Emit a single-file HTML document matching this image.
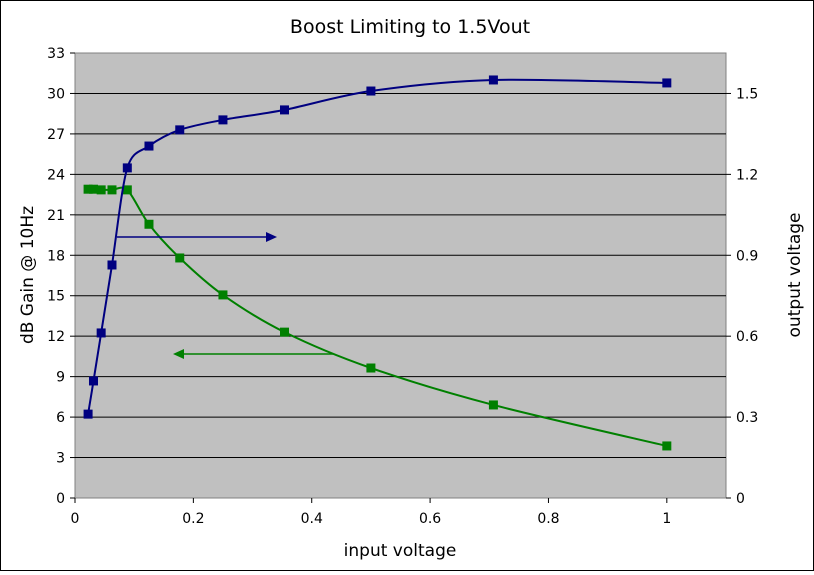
<!DOCTYPE html>
<html><head><meta charset="utf-8"><style>
body{margin:0;background:#fff;font-family:"DejaVu Sans","Liberation Sans",sans-serif}
svg text{font-family:"DejaVu Sans","Liberation Sans",sans-serif;fill:#000}
</style></head><body>
<svg id="chart" width="814" height="571" viewBox="0 0 814 571" xmlns="http://www.w3.org/2000/svg">
<rect x="0.5" y="0.5" width="813" height="570" fill="#fff" stroke="#000"/>
<text x="410" y="33" font-size="19" text-anchor="middle">Boost Limiting to 1.5Vout</text>
<rect x="75" y="53" width="651" height="445" fill="#c0c0c0" stroke="#808080"/>
<g id="grid"></g><g id="axes"></g><g id="series"></g>
<line x1="117" y1="237" x2="268" y2="237" stroke="#000080" stroke-width="1.5"/>
<polygon points="277,237 266,232 266,242" fill="#000080"/>
<line x1="182" y1="354" x2="333" y2="354" stroke="#008000" stroke-width="1.5"/>
<polygon points="173,354 184,349 184,359" fill="#008000"/>
<text x="400" y="556" font-size="17" text-anchor="middle">input voltage</text>
<text transform="translate(33,275) rotate(-90)" font-size="17" text-anchor="middle">dB Gain @ 10Hz</text>
<text transform="translate(800,275) rotate(-90)" font-size="17" text-anchor="middle">output voltage</text>
</svg>
<script>
const xValues=[0.0221,0.03125,0.0442,0.0625,0.0884,0.125,0.177,0.25,0.354,0.5,0.707,1.0];
const voutValues=[0.311,0.434,0.612,0.864,1.224,1.305,1.365,1.402,1.439,1.509,1.55,1.539];
const gainValues=[22.9,22.9,22.85,22.85,22.85,20.3,17.8,15.06,12.3,9.64,6.9,3.86];
const xTicks=[0,0.2,0.4,0.6,0.8,1];
const xTickLabels=["0","0.2","0.4","0.6","0.8","1"];
const yTicks=[0,3,6,9,12,15,18,21,24,27,30,33];
const y2Ticks=[0,0.3,0.6,0.9,1.2,1.5];
const y2TickLabels=["0","0.3","0.6","0.9","1.2","1.5"];
const L=75,R=726,T=53,B=498;
const sx=v=>L+v/1.1*(R-L);
const sy=v=>B-v/33*(B-T);
const sy2=v=>B-v/1.65*(B-T);
const NS="http://www.w3.org/2000/svg";
function mk(tag,attrs,parent){const e=document.createElementNS(NS,tag);for(const k in attrs)e.setAttribute(k,attrs[k]);parent.appendChild(e);return e;}
const grid=document.getElementById('grid'),axes=document.getElementById('axes'),ser=document.getElementById('series');
yTicks.forEach(t=>{
 const y=sy(t);
 if(t>0&&t<33){const g=mk('line',{x1:L,x2:R,y1:y,y2:y,stroke:'#000','stroke-width':1},grid);
 
 }
 const tk=mk('line',{x1:L-5,x2:L,y1:y,y2:y,stroke:'#000'},axes);
 
 
 const tx=mk('text',{x:L-10,y:y+5,'font-size':14,'text-anchor':'end'},axes);tx.textContent=t;
 
 
});
y2Ticks.forEach((t,i)=>{
 const y=sy2(t);
 const tk=mk('line',{x1:R,x2:R+5,y1:y,y2:y,stroke:'#000'},axes);
 
 
 const tx=mk('text',{x:R+10,y:y+5,'font-size':14},axes);tx.textContent=y2TickLabels[i];
 
 
});
xTicks.forEach((t,i)=>{
 const x=sx(t);
 const tk=mk('line',{x1:x,x2:x,y1:B,y2:B+5,stroke:'#000'},axes);
 
 
 const tx=mk('text',{x:x,y:B+25,'font-size':14,'text-anchor':'middle'},axes);tx.textContent=xTickLabels[i];
 
 
});
function smooth(pts){let d=`M${pts[0][0]},${pts[0][1]}`;for(let i=0;i<pts.length-1;i++){const p0=pts[Math.max(0,i-1)],p1=pts[i],p2=pts[i+1],p3=pts[Math.min(pts.length-1,i+2)];const k=0.15;
 d+=` C${p1[0]+(p2[0]-p0[0])*k},${p1[1]+(p2[1]-p0[1])*k} ${p2[0]-(p3[0]-p1[0])*k},${p2[1]-(p3[1]-p1[1])*k} ${p2[0]},${p2[1]}`;}return d;}
function drawSeries(vals,scale,color,name){
 const pts=xValues.map((x,i)=>[sx(x),scale(vals[i])]);
 const p=mk('path',{d:smooth(pts),fill:'none',stroke:color,'stroke-width':2},ser);
 
 
 pts.forEach(q=>{const m=mk('rect',{x:q[0]-4.5,y:q[1]-4.5,width:9,height:9,fill:color},ser);
 
 });
}
drawSeries(gainValues,sy,'#008000','gain');
drawSeries(voutValues,sy2,'#000080','vout');
</script>
</body></html>
